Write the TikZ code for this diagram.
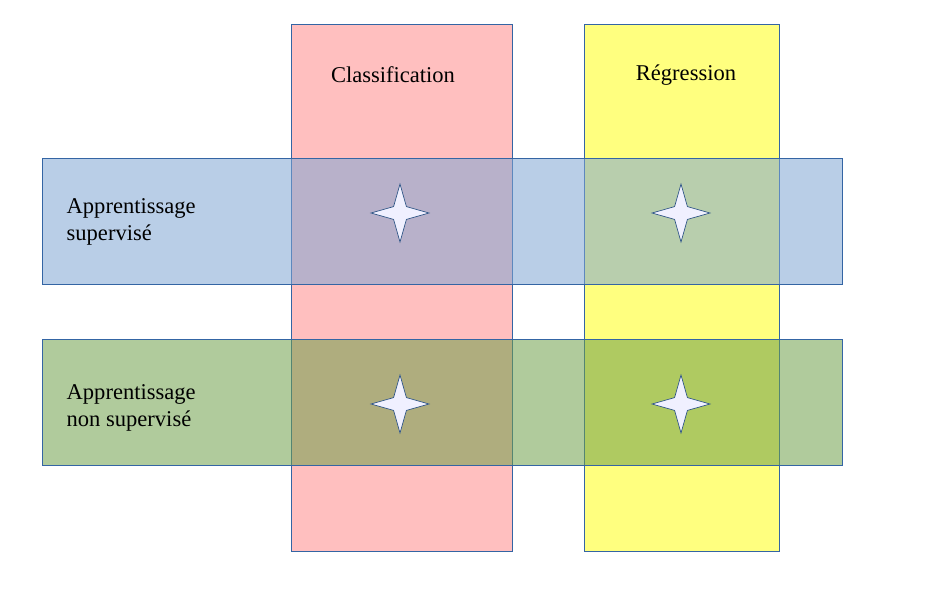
\documentclass[tikz,border=0pt]{standalone}
\usepackage{fontspec}
\setmainfont{Liberation Serif}
\usetikzlibrary{shapes.geometric}
\definecolor{colpink}{HTML}{FFBFBF}
\definecolor{colyellow}{HTML}{FFFF7F}
\definecolor{rowblue}{HTML}{7FA6D4}
\definecolor{rowgreen}{HTML}{6FA04A}
\definecolor{edgeblue}{HTML}{3465A4}
\begin{document}
\begin{tikzpicture}[x=0.0265cm,y=-0.0265cm,
    column/.style={draw=edgeblue,line width=0.6pt},
    row/.style={draw=edgeblue,line width=0.6pt,fill opacity=0.55},
    sparkle/.style={star,star points=4,star point ratio=3.2,minimum size=58*0.0265cm,
      inner sep=0pt,draw=edgeblue!80!black,fill=white!94!blue,line width=0.5pt},
    rowlabel/.style={font=\fontsize{17}{20}\selectfont,align=left,anchor=west}]
  \useasboundingbox (0,0) rectangle (939,589);
  % columns
  \draw[column,fill=colpink] (291,24) rectangle (512,551);
  \draw[column,fill=colyellow] (584,24) rectangle (779,551);
  % rows
  \draw[row,fill=rowblue] (42,158) rectangle (842,284);
  \draw[row,fill=rowgreen] (42,339) rectangle (842,465);
  % labels
  \node[font=\fontsize{17}{20}\selectfont] (classif) at (393,75) {Classification};
  \node[font=\fontsize{17}{20}\selectfont] (regress) at (686,75) {Régression};
  \node[rowlabel] (sup) at (62,222) {Apprentissage\\supervisé};
  \node[rowlabel] (nonsup) at (62,408) {Apprentissage\\non supervisé};
  % stars
  \node[sparkle] (s11) at (400,213) {};
  \node[sparkle] (s12) at (681,213) {};
  \node[sparkle] (s21) at (400,404) {};
  \node[sparkle] (s22) at (681,404) {};
\end{tikzpicture}
\end{document}
